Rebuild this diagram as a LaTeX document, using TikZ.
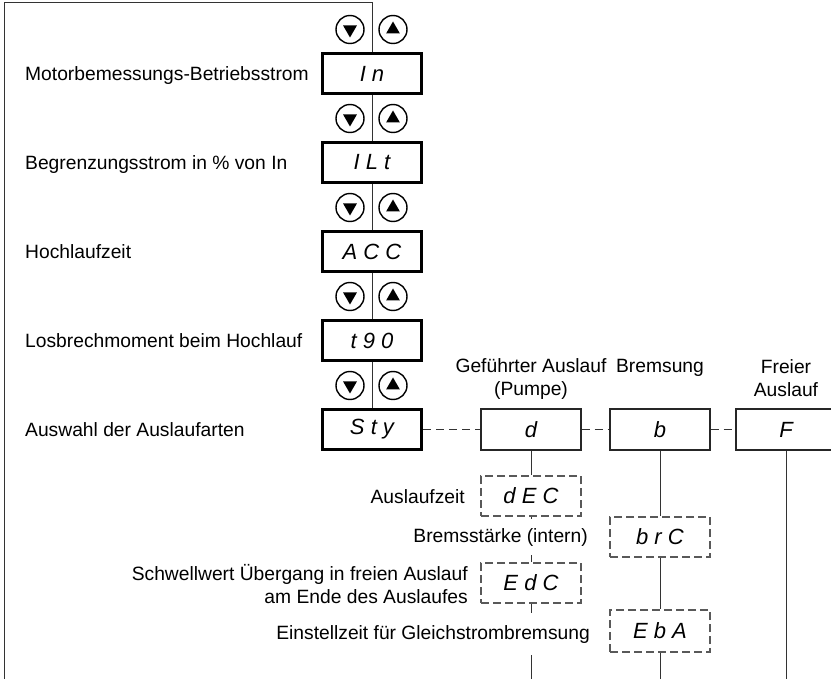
\documentclass[tikz,border=0pt]{standalone}
\usepackage{fontspec}
\setmainfont{Liberation Sans}
\usetikzlibrary{shapes.geometric}
\begin{document}
\begin{tikzpicture}[x=1pt,y=-1pt,
  lbl/.style={font=\fontsize{19.25}{23.5}\selectfont, inner sep=0pt},
  seg/.style={font=\fontsize{22}{24}\selectfont\itshape},
  mainbox/.style={draw=black, line width=3pt, minimum width=99pt, minimum height=40pt, inner sep=0pt, seg},
  modebox/.style={draw=black!85, line width=1.1pt, minimum width=100pt, minimum height=41pt, inner sep=0pt, seg},
  parbox/.style={draw=black!65, dash pattern=on 8pt off 4pt, line width=1.1pt, minimum width=100pt, minimum height=40pt, inner sep=0pt, seg},
  btn/.style={circle, draw=black, line width=1.4pt, minimum size=28pt, inner sep=0pt},
  tri/.style={regular polygon, regular polygon sides=3, fill=black, inner sep=0pt, minimum size=16pt},
  wire/.style={draw=black!80, line width=1pt},
  link/.style={draw=black!80, line width=1pt, dash pattern=on 8pt off 5pt},
]
\useasboundingbox (0,0) rectangle (831,679);
\clip (0,0) rectangle (831,679);

% main column
\node[mainbox] (In)  at (372,73.5)  {I n};
\node[mainbox] (ILt) at (372,162.5) {I L t};
\node[mainbox] (ACC) at (372,251.5) {A C C};
\node[mainbox] (t90) at (372,340.5) {t 9 0};
\node[mainbox] (Sty) at (372,429.5) {S t y};

\coordinate (bl) at (4,679);
\coordinate (tl) at (4,3);
\coordinate (tr) at (372,3);
\draw[wire] (bl) -- (tl) -- (tr) -- (In.north);
\draw[wire] (In.south) -- (ILt.north);
\draw[wire] (ILt.south) -- (ACC.north);
\draw[wire] (ACC.south) -- (t90.north);
\draw[wire] (t90.south) -- (Sty.north);

\foreach \k/\yy in {1/29.5,2/118.5,3/207.5,4/296.5,5/385.5}{
  \node[btn] (dn\k) at (350,\yy) {};
  \node[tri, shape border rotate=180] at (dn\k) {};
  \node[btn] (up\k) at (393,\yy) {};
  \node[tri] at (up\k) {};
}

% left labels
\node[lbl, anchor=base west] (lIn)  at (25,80.5)  {Motorbemessungs-Betriebsstrom};
\node[lbl, anchor=base west] (lILt) at (25,169.5) {Begrenzungsstrom in \% von In};
\node[lbl, anchor=base west] (lACC) at (25,258.5) {Hochlaufzeit};
\node[lbl, anchor=base west] (lt90) at (25,347.5) {Losbrechmoment beim Hochlauf};
\node[lbl, anchor=base west] (lSty) at (25,436.5) {Auswahl der Auslaufarten};

% mode boxes
\node[modebox] (d) at (531,429.5) {d};
\node[modebox] (b) at (660,429.5) {b};
\node[modebox] (F) at (786,429.5) {F};
\draw[link] (Sty.east) -- (d.west);
\draw[link] (d.east) -- (b.west);
\draw[link] (b.east) -- (F.west);

\node[lbl, align=center] (ld) at (531,379) {Geführter Auslauf\\(Pumpe)};
\node[lbl, anchor=base] (lb) at (660,373) {Bremsung};
\node[lbl, align=center] (lF) at (786,378) {Freier\\Auslauf};

% parameter boxes
\node[parbox] (dEC) at (531,496) {d E C};
\node[parbox] (brC) at (660,537) {b r C};
\node[parbox] (EdC) at (531,583) {E d C};
\node[parbox, minimum height=42pt] (EbA) at (660,631) {E b A};

\coordinate (dEnd) at (531,679);
\coordinate (bEnd) at (660,679);
\coordinate (FEnd) at (786,679);

\draw[wire] (d) -- (dEC);
\draw[wire] (dEC) -- (EdC);
\draw[wire] (EdC) -- (dEnd);
\draw[wire] (b) -- (brC);
\draw[wire] (brC) -- (EbA);
\draw[wire] (EbA) -- (bEnd);
\draw[wire] (F) -- (FEnd);

% parameter labels
\node[lbl, anchor=base east] (ldEC) at (465,503) {Auslaufzeit};
\node[lbl, anchor=base east, fill=white, inner xsep=2pt, inner ysep=9pt] (lbrC) at (590,542) {Bremsstärke (intern)};
\node[lbl, anchor=east, align=right] (lEdC) at (468,584) {Schwellwert Übergang in freien Auslauf\\am Ende des Auslaufes};
\node[lbl, anchor=base east, fill=white, inner xsep=2pt, inner ysep=12pt] (lEbA) at (592,639) {Einstellzeit für Gleichstrombremsung};
\end{tikzpicture}
\end{document}
